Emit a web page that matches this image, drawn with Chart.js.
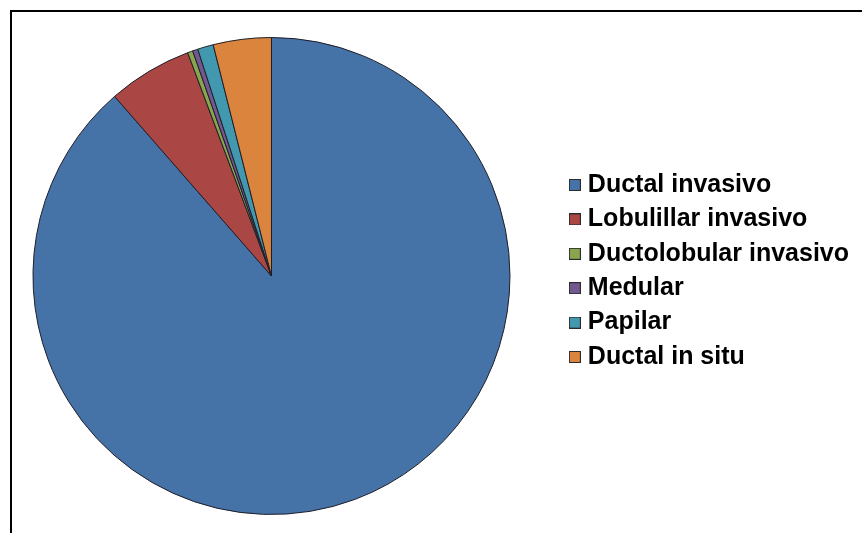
<!DOCTYPE html>
<html>
<head>
<meta charset="utf-8">
<script src="https://cdn.jsdelivr.net/npm/chart.js@4/dist/chart.umd.min.js"></script>
<style>
  html, body { margin: 0; padding: 0; background: #ffffff; }
  body { width: 862px; height: 533px; position: relative; overflow: hidden; }
  #frame { position: absolute; left: 10px; top: 10px; width: 860px; height: 530px;
           border-top: 2px solid #000; border-left: 2px solid #000; }
  #wrap { position: absolute; left: 0; top: 0; width: 862px; height: 533px; }
</style>
</head>
<body>
<div id="frame"></div>
<div id="wrap"><canvas id="c" width="862" height="533"></canvas></div>
<script>
// ---- data ----
const categories = ['Ductal invasivo', 'Lobulillar invasivo', 'Ductolobular invasivo', 'Medular', 'Papilar', 'Ductal in situ'];
const values = [248, 16, 1, 1, 3, 11];
const colors = ['#4572A7', '#AA4643', '#89A54E', '#71588F', '#4198AF', '#DB843D'];

function makeSwatch(color) {
  const s = 12;
  const cv = document.createElement('canvas');
  cv.width = s; cv.height = s;
  const g = cv.getContext('2d');
  g.fillStyle = color;
  g.fillRect(0, 0, s, s);
  g.strokeStyle = '#2b2b2b';
  g.lineWidth = 1;
  g.strokeRect(0.5, 0.5, s - 1, s - 1);
  return cv;
}

// nudge the legend box (layout only) so the pie keeps its own area
const legendShift = {
  id: 'legendShift',
  afterLayout(chart) {
    const l = chart.legend;
    if (l) { l.top -= 5; l.bottom -= 5; l.left += 22; l.right += 22; }
  }
};

new Chart(document.getElementById('c'), {
  type: 'pie',
  data: {
    labels: categories,
    datasets: [{
      data: values,
      backgroundColor: colors,
      borderColor: '#1e1e28',
      borderWidth: 1
    }]
  },
  options: {
    responsive: false,
    animation: false,
    events: [],
    layout: { padding: { top: 37, bottom: 18, left: 0, right: 25 } },
    plugins: {
      tooltip: { enabled: false },
      legend: {
        position: 'right',
        align: 'center',
        labels: {
          usePointStyle: true,
          boxWidth: 1,
          padding: 9.4,
          color: '#000',
          font: { family: '"Liberation Sans", Arial, sans-serif', size: 25, weight: 'bold' },
          generateLabels(chart) {
            const items = Chart.overrides.pie.plugins.legend.labels.generateLabels(chart);
            items.forEach(it => { it.pointStyle = makeSwatch(it.fillStyle); });
            return items;
          }
        }
      }
    }
  },
  plugins: [legendShift]
});
</script>
</body>
</html>
